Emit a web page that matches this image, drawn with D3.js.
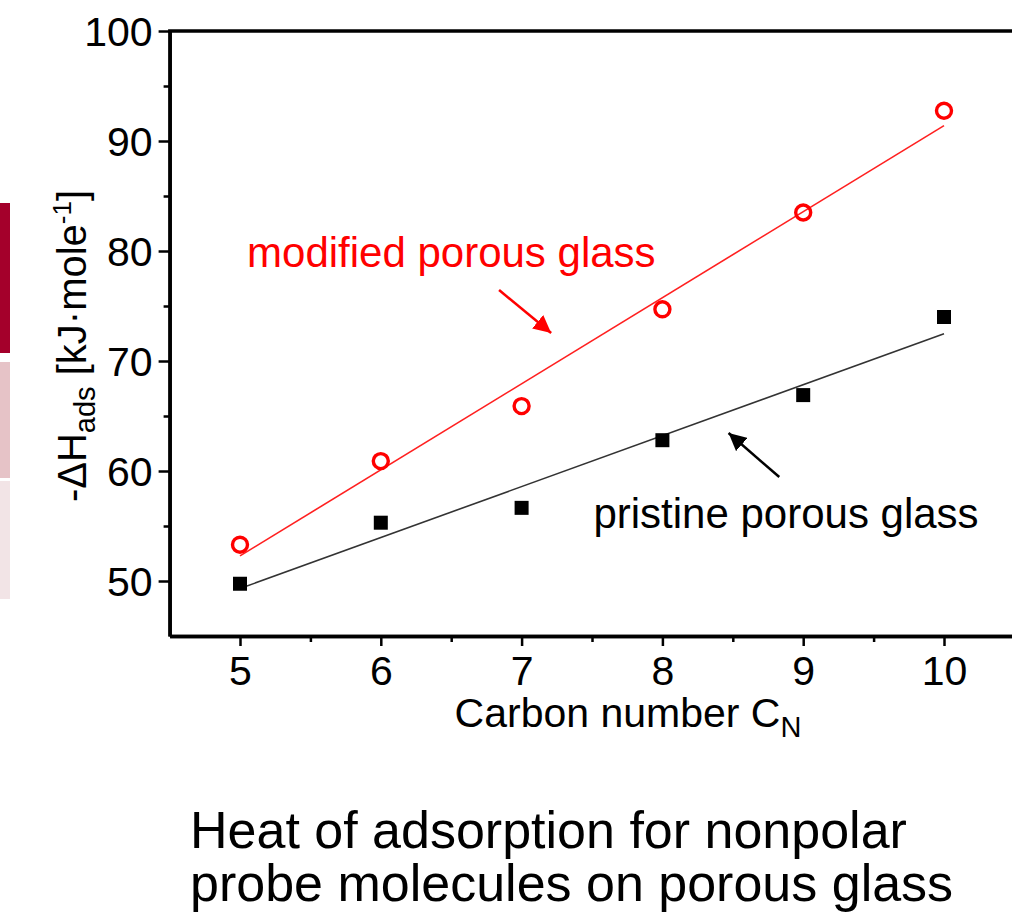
<!DOCTYPE html>
<html>
<head>
<meta charset="utf-8">
<script src="https://cdn.jsdelivr.net/npm/d3@7"></script>
<style>
  body { margin: 0; background: #fff; }
  svg { display: block; font-family: "Liberation Sans", Arial, sans-serif; }
</style>
</head>
<body>
<div id="chart-area"></div>
<script>
// data
var carbonNumbers = [5, 6, 7, 8, 9, 10];
var modifiedGlass = [53.3, 60.9, 65.9, 74.7, 83.5, 92.75];
var pristineGlass = [49.75, 55.3, 56.65, 62.8, 66.9, 74.0];
var xTicks = [5, 6, 7, 8, 9, 10];
var yTicks = [50, 60, 70, 80, 90, 100];

var width = 1012, height = 916;

var svg = d3.select('#chart-area')
  .append('svg')
    .attr('width', width)
    .attr('height', height);

// slide decoration on the left edge
var bars = [
  { y0: 203, y1: 353, color: '#a4002b' },
  { y0: 362, y1: 478, color: '#e6c3c7' },
  { y0: 481, y1: 599, color: '#f2e4e6' }
];
svg.selectAll('rect.deco')
  .data(bars)
  .enter().append('rect')
    .attr('class', 'deco')
    .attr('x', 0)
    .attr('y', d => d.y0)
    .attr('width', 10)
    .attr('height', d => d.y1 - d.y0)
    .attr('fill', d => d.color);

// scales
var x = d3.scaleLinear().domain([4.5, 10.5]).range([169.6, 1014.4]);
var y = d3.scaleLinear().domain([45, 100]).range([636, 31]);

// axes
var xAxis = svg.append('g')
  .attr('transform', 'translate(0,' + y(45) + ')')
  .call(d3.axisBottom(x).tickValues(xTicks).tickFormat(d3.format('d'))
    .tickSize(10).tickSizeOuter(0).tickPadding(10));
var xMinor = svg.append('g')
  .attr('transform', 'translate(0,' + y(45) + ')')
  .call(d3.axisBottom(x).tickValues(d3.range(5.5, 10.5, 1)).tickSize(6).tickSizeOuter(0).tickFormat(''));

var yAxis = svg.append('g')
  .attr('transform', 'translate(' + x(4.5) + ',0)')
  .call(d3.axisLeft(y).tickValues(yTicks).tickSize(11).tickSizeOuter(0).tickPadding(6));
var yMinor = svg.append('g')
  .attr('transform', 'translate(' + x(4.5) + ',0)')
  .call(d3.axisLeft(y).tickValues(d3.range(55, 100, 10)).tickSize(6).tickSizeOuter(0).tickFormat(''));

[xAxis, xMinor, yAxis, yMinor].forEach(g => {
  g.select('.domain').attr('stroke', '#000').attr('stroke-width', 3.5);
  g.selectAll('.tick line').attr('stroke', '#000').attr('stroke-width', 2.5);
  g.selectAll('.tick text')
    .attr('fill', '#000')
    .attr('font-size', '41px')
    .attr('font-family', '"Liberation Sans", Arial, sans-serif');
});
yAxis.selectAll('.tick text').attr('dy', '0.36em');

// frame top and right
svg.append('line')
  .attr('x1', x(4.5) - 1.5).attr('x2', x(10.5))
  .attr('y1', y(100)).attr('y2', y(100))
  .attr('stroke', '#000').attr('stroke-width', 3.5);
svg.append('line')
  .attr('x1', x(10.5)).attr('x2', x(10.5))
  .attr('y1', y(100)).attr('y2', y(45))
  .attr('stroke', '#000').attr('stroke-width', 3.5);

// axis titles
var yTitle = svg.append('text')
  .attr('transform', 'translate(86,' + 346 + ') rotate(-90)')
  .attr('text-anchor', 'middle')
  .attr('font-size', '40px')
  .attr('fill', '#000');
yTitle.append('tspan').text('-\u0394H');
yTitle.append('tspan').attr('font-size', '29px').attr('dy', 9).text('ads');
yTitle.append('tspan').attr('dy', -9).text(' [kJ\u00b7mole');
yTitle.append('tspan').attr('font-size', '26px').attr('dy', -15).text('-1');
yTitle.append('tspan').attr('dy', 15).text(']');

var xTitle = svg.append('text')
  .attr('x', 628)
  .attr('y', 727)
  .attr('text-anchor', 'middle')
  .attr('font-size', '41px')
  .attr('fill', '#000');
xTitle.append('tspan').text('Carbon number C');
xTitle.append('tspan').attr('font-size', '29px').attr('dy', 10).text('N');

// linear fits computed from the data
function fit(xs, ys) {
  var mx = d3.mean(xs), my = d3.mean(ys);
  var sxy = d3.sum(xs, (v, i) => (v - mx) * (ys[i] - my));
  var sxx = d3.sum(xs, v => (v - mx) * (v - mx));
  var b = sxy / sxx;
  return v => my + b * (v - mx);
}
var series = [
  { values: modifiedGlass, line: '#ff2020' },
  { values: pristineGlass, line: '#333' }
];
series.forEach(s => {
  var f = fit(carbonNumbers, s.values);
  var ends = d3.extent(carbonNumbers);
  svg.append('line')
    .attr('x1', x(ends[0])).attr('y1', y(f(ends[0])))
    .attr('x2', x(ends[1])).attr('y2', y(f(ends[1])))
    .attr('stroke', s.line)
    .attr('stroke-width', 1.6);
});

// markers
svg.selectAll('rect.pristine')
  .data(carbonNumbers)
  .enter().append('rect')
    .attr('class', 'pristine')
    .attr('x', (d, i) => x(d) - 7)
    .attr('y', (d, i) => y(pristineGlass[i]) - 7)
    .attr('width', 14)
    .attr('height', 14)
    .attr('fill', '#000');

svg.selectAll('circle.modified')
  .data(carbonNumbers)
  .enter().append('circle')
    .attr('class', 'modified')
    .attr('cx', d => x(d))
    .attr('cy', (d, i) => y(modifiedGlass[i]))
    .attr('r', 7.5)
    .attr('fill', 'none')
    .attr('stroke', '#ff0000')
    .attr('stroke-width', 3.4);

// annotations
var defs = svg.append('defs');
['red', 'black'].forEach(c => {
  defs.append('marker')
    .attr('id', 'arrow-' + c)
    .attr('viewBox', '0 0 10 10')
    .attr('refX', 10).attr('refY', 5)
    .attr('markerWidth', 7).attr('markerHeight', 7)
    .attr('markerUnits', 'strokeWidth')
    .attr('orient', 'auto')
  .append('path')
    .attr('d', 'M0,0 L10,5 L0,10 Z')
    .attr('fill', c === 'red' ? '#ff0000' : '#000');
});

svg.append('text')
  .attr('x', x(5.05)).attr('y', y(78.55))
  .attr('font-size', '42px')
  .attr('fill', '#ff0000')
  .text('modified porous glass');
svg.append('line')
  .attr('x1', x(6.84)).attr('y1', y(76.45))
  .attr('x2', x(7.21)).attr('y2', y(72.55))
  .attr('stroke', '#ff0000').attr('stroke-width', 2.5)
  .attr('marker-end', 'url(#arrow-red)');

svg.append('text')
  .attr('x', x(7.51)).attr('y', y(54.8))
  .attr('font-size', '42px')
  .attr('fill', '#000')
  .text('pristine porous glass');
svg.append('line')
  .attr('x1', x(8.83)).attr('y1', y(59.45))
  .attr('x2', x(8.47)).attr('y2', y(63.45))
  .attr('stroke', '#000').attr('stroke-width', 2.5)
  .attr('marker-end', 'url(#arrow-black)');

// caption
var caption = svg.append('text')
  .attr('x', 190)
  .attr('font-size', '52px')
  .attr('fill', '#000');
caption.append('tspan').attr('x', 190).attr('y', 848).text('Heat of adsorption for nonpolar');
caption.append('tspan').attr('x', 190).attr('y', 901).text('probe molecules on porous glass');
</script>
</body>
</html>
